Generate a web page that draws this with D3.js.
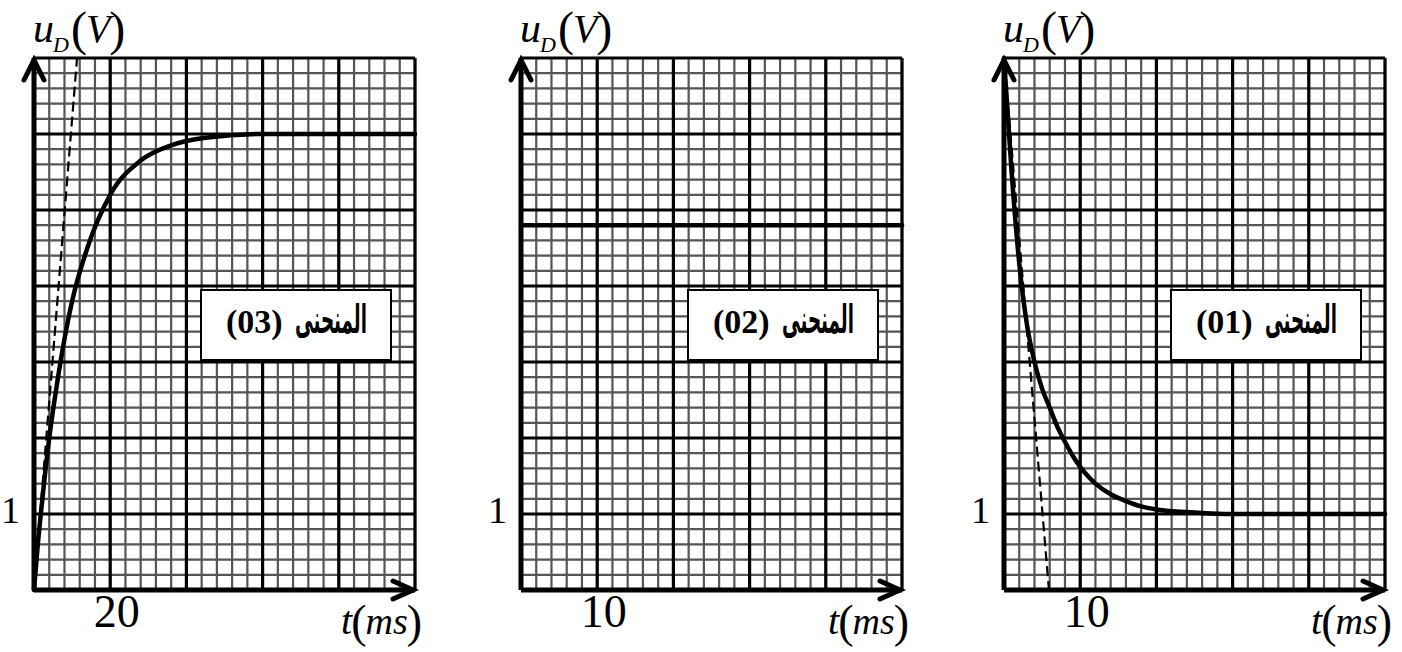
<!DOCTYPE html>
<html>
<head>
<meta charset="utf-8">
<script src="https://cdn.jsdelivr.net/npm/d3@7"></script>
<style>
  html, body { margin: 0; padding: 0; background: #fff; }
  svg { display: block; }
</style>
</head>
<body>
<svg id="chart" width="1402" height="652"></svg>
<script>
// ---- data -------------------------------------------------------------
// Panel order left to right: curve (03), curve (02), curve (01)
const panelNames = ["(03)", "(02)", "(01)"];
const curveWord = "المنحنى";
const msPerDivision = [20, 10, 10];        // time value of one large division
const timeTickLabels = [20, 10, 10];       // labelled time tick
const voltTickLabels = [1];                // labelled voltage tick
const voltMax = 7;                         // large divisions on the voltage axis
const timeDivisions = 5;                   // large divisions on the time axis

// Curve (03): charging, u_D rises to 6 V
const curve03T = [0, 1, 2, 4, 6, 8, 10, 14, 20, 28, 36, 45, 60, 80, 100];
const curve03U = [0, 0.6, 1.1, 2.0, 2.7, 3.3, 3.8, 4.5, 5.2, 5.65, 5.85, 5.95, 6.0, 6.0, 6.0];
// Tangent at the origin for (03)
const tangent03T = [0, 11.3];
const tangent03U = [0, 7];

// Curve (02): constant voltage
const curve02T = [0, 50];
const curve02U = [4.8, 4.8];

// Curve (01): discharge from 7 V towards 1 V
const curve01T = [0, 1, 2, 3, 4, 5, 6, 7, 8, 9, 10, 11, 12, 14, 16, 18, 20, 25, 30, 50];
const curve01U = [7, 5.5, 4.3, 3.5, 3.0, 2.65, 2.4, 2.15, 1.95, 1.77, 1.62, 1.5, 1.4, 1.26, 1.17, 1.1, 1.06, 1.02, 1.0, 1.0];
// Tangent at t = 0 for (01)
const tangent01T = [0, 5.9];
const tangent01U = [7, 0];

const curves = [
  { t: curve03T, u: curve03U, tanT: tangent03T, tanU: tangent03U },
  { t: curve02T, u: curve02U, tanT: null, tanU: null },
  { t: curve01T, u: curve01U, tanT: tangent01T, tanU: tangent01U }
];

// ---- layout -----------------------------------------------------------
const panelLeft = [34, 521, 1004];
const gridTop = 58, gridBottom = 590, gridWidth = 381;
const serif = "'Liberation Serif', 'Times New Roman', serif";

const svg = d3.select("#chart");

panelNames.forEach((name, i) => {
  const x0 = panelLeft[i];
  const x1 = x0 + gridWidth;
  const tMax = msPerDivision[i] * timeDivisions;
  const x = d3.scaleLinear().domain([0, tMax]).range([x0, x1]);
  const y = d3.scaleLinear().domain([0, voltMax]).range([gridBottom, gridTop]);
  const g = svg.append("g");

  // minor grid (5 small squares per division)
  const tMinor = d3.range(0, timeDivisions * 5 + 1).map(k => k * tMax / (timeDivisions * 5));
  const uMinor = d3.range(0, voltMax * 5 + 1).map(k => k / 5);
  g.append("g").selectAll("line").data(tMinor).join("line")
    .attr("x1", d => x(d)).attr("x2", d => x(d))
    .attr("y1", y(0)).attr("y2", y(voltMax))
    .attr("stroke", "#555").attr("stroke-width", 2.2);
  g.append("g").selectAll("line").data(uMinor).join("line")
    .attr("x1", x(0)).attr("x2", x(tMax))
    .attr("y1", d => y(d)).attr("y2", d => y(d))
    .attr("stroke", "#555").attr("stroke-width", 2.2);

  // major grid
  const tMajor = d3.range(0, timeDivisions + 1).map(k => k * msPerDivision[i]);
  const uMajor = d3.range(0, voltMax + 1);
  g.append("g").selectAll("line").data(tMajor).join("line")
    .attr("x1", d => x(d)).attr("x2", d => x(d))
    .attr("y1", y(0)).attr("y2", y(voltMax))
    .attr("stroke", "#000").attr("stroke-width", 3.2);
  g.append("g").selectAll("line").data(uMajor).join("line")
    .attr("x1", x(0)).attr("x2", x(tMax))
    .attr("y1", d => y(d)).attr("y2", d => y(d))
    .attr("stroke", "#000").attr("stroke-width", 3.2);

  // curve
  const c = curves[i];
  const pts = c.t.map((t, k) => [t, c.u[k]]);
  g.append("path")
    .attr("d", d3.line().x(d => x(d[0])).y(d => y(d[1])).curve(d3.curveMonotoneX)(pts))
    .attr("fill", "none").attr("stroke", "#000").attr("stroke-width", 4.5)
    .attr("stroke-linejoin", "round").attr("stroke-linecap", "round");

  // tangent
  if (c.tanT) {
    const tp = c.tanT.map((t, k) => [t, c.tanU[k]]);
    g.append("path")
      .attr("d", d3.line().x(d => x(d[0])).y(d => y(d[1]))(tp))
      .attr("fill", "none").attr("stroke", "#000").attr("stroke-width", 2.2)
      .attr("stroke-dasharray", "10,5");
  }

  // label box
  const bx = x0 + 167, by = 290, bw = 190, bh = 70;
  g.append("rect").attr("x", bx).attr("y", by).attr("width", bw).attr("height", bh)
    .attr("fill", "#fff").attr("stroke", "#000").attr("stroke-width", 2);
  g.append("text")
    .attr("x", bx + 25).attr("y", by + 43)
    .attr("font-family", serif).attr("font-weight", "bold").attr("font-size", 34)
    .text(name);
  // Arabic word, narrowed horizontally to fit beside the number
  const word = g.append("text")
    .attr("x", 0).attr("y", 0)
    .attr("font-family", "'DejaVu Sans', sans-serif")
    .attr("font-weight", "bold").attr("font-size", 40)
    .text(curveWord);
  const natural = word.node().getComputedTextLength() || 150;
  word.attr("transform", `translate(${bx + 94},${by + 43}) scale(${72 / natural},1)`);

  // axes lines
  g.append("line").attr("x1", x(0)).attr("x2", x(tMax)).attr("y1", y(0)).attr("y2", y(0))
    .attr("stroke", "#000").attr("stroke-width", 5);
  g.append("line").attr("x1", x(0)).attr("x2", x(0)).attr("y1", y(0)).attr("y2", y(voltMax))
    .attr("stroke", "#000").attr("stroke-width", 5);

  // arrow heads
  g.append("path")
    .attr("d", `M${x(0) - 10},${y(voltMax) + 22} L${x(0)},${y(voltMax) + 2} L${x(0) + 10},${y(voltMax) + 22}`)
    .attr("fill", "none").attr("stroke", "#000").attr("stroke-width", 5)
    .attr("stroke-linecap", "round").attr("stroke-linejoin", "miter");
  g.append("path")
    .attr("d", `M${x(tMax) - 22},${y(0) - 9} L${x(tMax) - 2},${y(0)} L${x(tMax) - 22},${y(0) + 9}`)
    .attr("fill", "none").attr("stroke", "#000").attr("stroke-width", 5)
    .attr("stroke-linecap", "round").attr("stroke-linejoin", "miter");

  // tick labels through d3 axes
  const xAxis = g.append("g").attr("transform", `translate(0,${gridBottom})`)
    .call(d3.axisBottom(x).tickValues([timeTickLabels[i]]).tickSize(0).tickFormat(d3.format("d")));
  xAxis.select(".domain").remove();
  xAxis.selectAll("text")
    .attr("font-family", serif).attr("font-size", 46).attr("fill", "#000")
    .attr("dx", 6).attr("y", 37).attr("dy", 0);

  const yAxis = g.append("g").attr("transform", `translate(${x0},0)`)
    .call(d3.axisLeft(y).tickValues(voltTickLabels).tickSize(0).tickFormat(d3.format("d")));
  yAxis.select(".domain").remove();
  yAxis.selectAll("text")
    .attr("font-family", serif).attr("font-size", 38).attr("fill", "#000")
    .attr("x", -14).attr("dy", 8);

  // u_D(V) axis title
  const yt = g.append("text").attr("x", x0 - 1).attr("y", 42)
    .attr("font-family", serif).attr("fill", "#000");
  yt.append("tspan").attr("font-size", 42).attr("font-style", "italic").text("u");
  yt.append("tspan").attr("font-size", 22).attr("font-style", "italic").attr("dx", -1).attr("dy", 10).text("D");
  yt.append("tspan").attr("font-size", 48).attr("dx", 2).attr("dy", -7).text("(");
  yt.append("tspan").attr("font-size", 40).attr("font-style", "italic").attr("dx", -1).attr("dy", -3).text("V");
  yt.append("tspan").attr("font-size", 48).attr("dx", -1).attr("dy", 3).text(")");

  // t(ms) axis title
  const xt = g.append("text").attr("x", x1 - 74).attr("y", 634)
    .attr("font-family", serif).attr("fill", "#000");
  xt.append("tspan").attr("font-size", 40).attr("font-style", "italic").text("t");
  xt.append("tspan").attr("font-size", 46).attr("dx", -1).attr("dy", 3).text("(");
  xt.append("tspan").attr("font-size", 38).attr("font-style", "italic").attr("dx", -1).attr("dy", -3).text("ms");
  xt.append("tspan").attr("font-size", 46).attr("dx", -1).attr("dy", 3).text(")");
});
</script>
</body>
</html>
